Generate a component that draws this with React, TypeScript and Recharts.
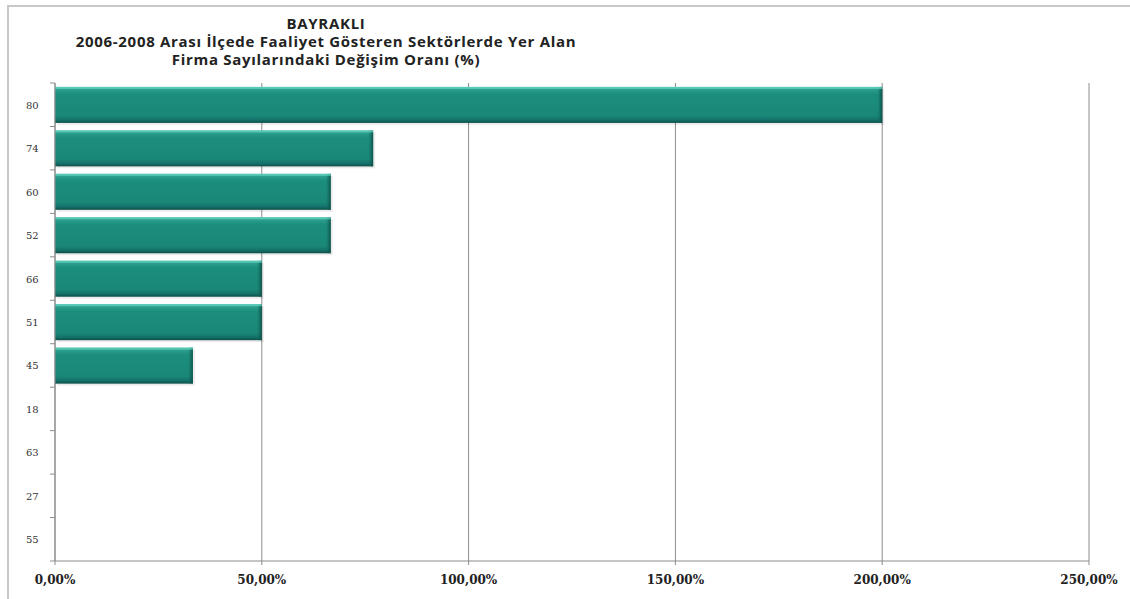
import { BarChart, Bar, XAxis, YAxis, CartesianGrid } from "recharts";

const categories = ["80", "74", "60", "52", "66", "51", "45", "18", "63", "27", "55"];
const changeRates = [200, 76.92, 66.67, 66.67, 50, 50, 33.33, 0, 0, 0, 0];
const xTicks = [0, 50, 100, 150, 200, 250];
const titleLines = [
  "BAYRAKLI",
  "2006-2008 Arası İlçede Faaliyet Gösteren Sektörlerde Yer Alan",
  "Firma Sayılarındaki Değişim Oranı (%)",
];

const data = categories.map((sector, i) => ({ sector, rate: changeRates[i] }));

const W = 1130;
const H = 599;
const PLOT_TOP = 83;
const PLOT_BOTTOM = 561;
const BAND = (PLOT_BOTTOM - PLOT_TOP) / categories.length;
const AXIS_GRAY = "#8c8c8c";

const fmtPct = (v: number) => v.toFixed(2).replace(".", ",") + "%";

function YTick(props: any) {
  const { y, payload, index } = props;
  const isLast = index === categories.length - 1;
  return (
    <g>
      <line x1={50} x2={55} y1={y - BAND / 2} y2={y - BAND / 2} stroke={AXIS_GRAY} />
      {isLast && <line x1={50} x2={55} y1={y + BAND / 2} y2={y + BAND / 2} stroke={AXIS_GRAY} />}
      <text x={26} y={y + 4} fontFamily="DejaVu Serif" fontSize={10} fill="#333">
        {payload.value}
      </text>
    </g>
  );
}

function XTick(props: any) {
  const { x, payload } = props;
  return (
    <text x={x} y={584} textAnchor="middle" fontFamily="DejaVu Serif" fontWeight="bold" fontSize={12} fill="#222">
      {fmtPct(payload.value)}
    </text>
  );
}

function BevelBar(props: any) {
  const { x, y, width, height } = props;
  if (!width || width <= 0) return null;
  return (
    <g>
      <rect x={x + 2} y={y + 2} width={width} height={height} fill="#000" opacity={0.08} />
      <rect x={x} y={y} width={width} height={height} fill="url(#barFill)" />
      <rect x={x + width - 5} y={y} width={5} height={height} fill="url(#barEnd)" />
      <rect x={x} y={y} width={width} height={2} fill="#5ccbb9" opacity={0.85} />
    </g>
  );
}

export default function App() {
  return (
    <div style={{ position: "absolute", left: 0, top: 0, width: W, height: H, background: "#fff", overflow: "hidden" }}>
      <div
        style={{
          position: "absolute",
          left: 7,
          top: 5,
          right: -4,
          bottom: -4,
          borderTop: "2px solid #c8c8c8",
          borderLeft: "2px solid #c8c8c8",
        }}
      />
      {titleLines.map((line, i) => (
        <div
          key={i}
          style={{
            position: "absolute",
            left: 326 - 300,
            width: 600,
            top: 14 + i * 18,
            textAlign: "center",
            fontFamily: "Open Sans",
            fontWeight: "bold",
            fontSize: 15,
            letterSpacing: "0.7px",
            lineHeight: "18px",
            color: "#222",
          }}
        >
          {line}
        </div>
      ))}
      <div style={{ position: "absolute", left: 0, top: 0 }}>
        <BarChart
          width={W}
          height={H}
          data={data}
          layout="vertical"
          margin={{ top: PLOT_TOP, right: 41, bottom: 0, left: 0 }}
          barCategoryGap="9%"
        >
          <defs>
            <linearGradient id="barFill" x1="0" y1="0" x2="0" y2="1">
              <stop offset="0" stopColor="#4dbfae" />
              <stop offset="0.08" stopColor="#2a9d8c" />
              <stop offset="0.2" stopColor="#1c8e7e" />
              <stop offset="0.8" stopColor="#1a8777" />
              <stop offset="0.92" stopColor="#14706a" />
              <stop offset="1" stopColor="#0c4f47" />
            </linearGradient>
            <linearGradient id="barEnd" x1="0" y1="0" x2="1" y2="0">
              <stop offset="0" stopColor="#137064" stopOpacity={0} />
              <stop offset="1" stopColor="#0c4a42" stopOpacity={0.9} />
            </linearGradient>
          </defs>
          <CartesianGrid horizontal={false} stroke={AXIS_GRAY} />
          <XAxis
            type="number"
            domain={[0, 250]}
            ticks={xTicks}
            height={38}
            axisLine={{ stroke: AXIS_GRAY }}
            tickLine={{ stroke: AXIS_GRAY }}
            tickSize={4}
            tick={<XTick />}
            interval={0}
          />
          <YAxis
            type="category"
            dataKey="sector"
            width={55}
            axisLine={{ stroke: AXIS_GRAY }}
            tickLine={false}
            tick={<YTick />}
            interval={0}
          />
          <Bar dataKey="rate" shape={<BevelBar />} isAnimationActive={false} />
        </BarChart>
      </div>
    </div>
  );
}
